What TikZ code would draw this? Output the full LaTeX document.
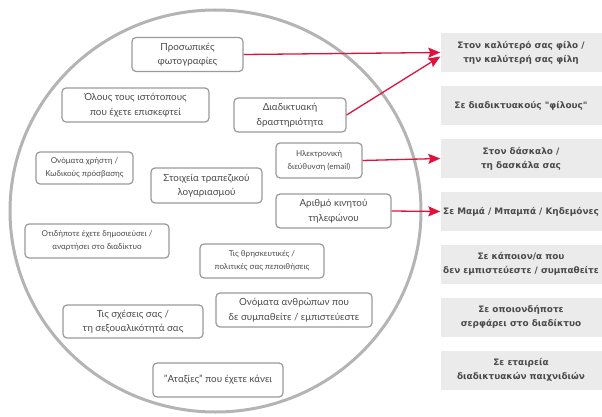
\documentclass[tikz,border=0pt]{standalone}
\usepackage{fontspec}
\setmainfont{Lato}
\newfontfamily\targetfont{DejaVu Sans}
\usetikzlibrary{arrows.meta}

\definecolor{ringgray}{HTML}{B4B4B4}
\definecolor{boxgray}{HTML}{9A9A9A}
\definecolor{textgray}{HTML}{4A4A4A}
\definecolor{panelgray}{HTML}{EBEBEB}
\definecolor{arrowred}{HTML}{E0123C}

\tikzset{
  infobox/.style={draw=boxgray, line width=1.2pt, rounded corners=4pt, fill=white,
    text=textgray, align=center, minimum height=34, inner sep=2pt,
    font=\fontsize{9.8}{14.5}\selectfont},
  smallbox/.style={infobox, font=\fontsize{8.1}{13}\selectfont},
  target/.style={fill=panelgray, text=textgray, align=center, minimum width=161,
    minimum height=39, inner sep=1pt, font=\targetfont\bfseries\fontsize{8.9}{14}\selectfont},
  share/.style={draw=arrowred, line width=1.3pt, -{Stealth[length=12pt,width=10pt,inset=2pt]}}
}

\begin{document}
\begin{tikzpicture}[x=1pt, y=-1pt]
\useasboundingbox (0,0) rectangle (602,417);

\draw[ringgray, line width=3pt] (215.5,211) ellipse[x radius=205.5, y radius=201];

% what you share
\node[infobox, minimum width=111] (photos) at (187.5,54.5) {Προσωπικές\\φωτογραφίες};
\node[infobox, minimum width=147] (sites) at (135.5,105) {Όλους τους ιστότοπους\\που έχετε επισκεφτεί};
\node[infobox, minimum width=112] (online) at (290,115) {Διαδικτυακή\\δραστηριότητα};
\node[smallbox, minimum width=97, minimum height=32] (logins) at (84.5,168) {Ονόματα χρήστη /\\Κωδικούς πρόσβασης};
\node[infobox, minimum width=111, minimum height=35] (bank) at (206.5,185.5) {Στοιχεία τραπεζικού\\λογαριασμού};
\node[smallbox, minimum width=86, minimum height=35] (email) at (319,160.5) {Ηλεκτρονική\\διεύθυνση (email)};
\node[infobox, minimum width=115] (mobile) at (333.5,211) {Αριθμό κινητού\\τηλεφώνου};
\node[smallbox, minimum width=144] (posts) at (97,241) {Οτιδήποτε έχετε δημοσιεύσει /\\αναρτήσει στο διαδίκτυο};
\node[smallbox, minimum width=124] (beliefs) at (262,261) {Τις θρησκευτικές /\\πολιτικές σας πεποιθήσεις};
\node[infobox, minimum width=140, minimum height=33] (relations) at (133,321.5) {Τις σχέσεις σας /\\τη σεξουαλικότητά σας};
\node[infobox, minimum width=156] (people) at (294,310) {Ονόματα ανθρώπων που\\δε συμπαθείτε / εμπιστεύεστε};
\node[infobox, minimum width=130] (mischief) at (218,380) {"Αταξίες" που έχετε κάνει};

% who you share with
\node[target] (bestfriend) at (521,52.5) {Στον καλύτερό σας φίλο /\\την καλύτερή σας φίλη};
\node[target] (netfriends) at (521,105.5) {Σε διαδικτυακούς "φίλους"};
\node[target] (teacher) at (521,158.5) {Στον δάσκαλο /\\τη δασκάλα σας};
\node[target] (parents) at (521,211.5) {Σε Μαμά / Μπαμπά / Κηδεμόνες};
\node[target] (untrusted) at (521,264) {Σε κάποιον/α που\\δεν εμπιστεύεστε / συμπαθείτε};
\node[target] (surfer) at (521,317) {Σε οποιονδήποτε\\σερφάρει στο διαδίκτυο};
\node[target] (company) at (521,370) {Σε εταιρεία\\διαδικτυακών παιχνιδιών};

\draw[share] (photos.east) -- (bestfriend.west);
\draw[share] (online.east) -- ([yshift=-4pt]bestfriend.west);
\draw[share] (email.east) -- (teacher.west);
\draw[share] (mobile.east) -- (parents.west);
\end{tikzpicture}
\end{document}
